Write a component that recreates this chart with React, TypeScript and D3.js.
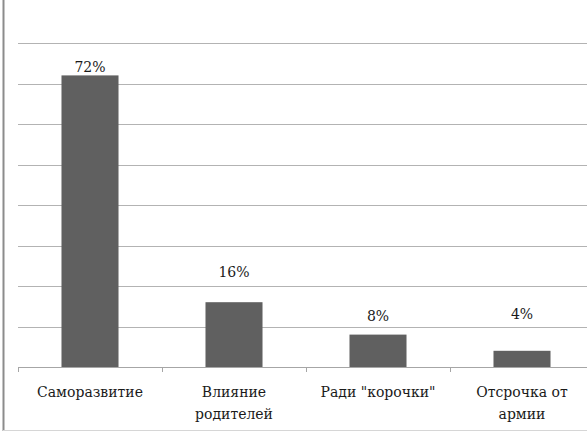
import * as d3 from 'd3';

const categories: string[][] = [
  ['Саморазвитие'],
  ['Влияние', 'родителей'],
  ['Ради "корочки"'],
  ['Отсрочка от', 'армии'],
];
const values: number[] = [72, 16, 8, 4];
const labels: string[] = ['72%', '16%', '8%', '4%'];
const yTicks: number[] = [0, 10, 20, 30, 40, 50, 60, 70, 80];
// labels were dragged by hand in the original, so each gets its own lift (px)
const labelLift: number[] = [3, 25, 14, 32];

const width = 587;
const height = 433;
const left = 18;
const right = 594;
const top = 43;
const bottom = 367;

const keys = categories.map((c) => c.join(' '));
const x = d3.scaleBand<string>()
  .domain(keys)
  .range([left, right])
  .paddingInner(0.604)
  .paddingOuter(0.302);
const y = d3.scaleLinear().domain([0, 80]).range([bottom, top]);

// Liberation Serif falls back to sans for Cyrillic here, DejaVu Serif does not
const textStyle = { fontFamily: 'DejaVu Serif', fontSize: '14px' };

const App = () => {
  const step = x.step();
  const cx = (i: number) => (x(keys[i]) as number) + x.bandwidth() / 2;
  return (
    <svg width={width} height={height} style={{ position: 'absolute', left: 0, top: 0 }}>
      <rect width={width} height={height} fill="#fff" />
      {/* chart area border */}
      <line x1={3.5} x2={3.5} y1={0} y2={431} stroke="#8c8c8c" strokeWidth={2} />
      <line x1={3} x2={width} y1={430.5} y2={430.5} stroke="#d6d6d6" />
      {/* gridlines */}
      {yTicks.filter((t) => t > 0).map((t) => (
        <line key={t} x1={left} x2={right}
          y1={Math.round(y(t)) + 0.5} y2={Math.round(y(t)) + 0.5} stroke="#b3b3b3" />
      ))}
      {/* bars */}
      {values.map((v, i) => (
        <rect key={i} x={x(keys[i])} y={y(v)} width={x.bandwidth()} height={y(0) - y(v)} fill="#606060" />
      ))}
      {/* category axis */}
      <line x1={left} x2={right} y1={bottom + 0.5} y2={bottom + 0.5} stroke="#a6a6a6" />
      {d3.range(keys.length + 1).map((i) => (
        <line key={i} x1={left + i * step + 0.5} x2={left + i * step + 0.5}
          y1={bottom} y2={bottom + 5} stroke="#a6a6a6" />
      ))}
      {categories.map((c, i) => (
        <text key={i} textAnchor="middle" fill="#1a1a1a" style={textStyle}
          transform={`translate(${cx(i)},397)`}>
          {c.map((line, j) => (
            <tspan key={j} x={0} y={j * 22}>{line}</tspan>
          ))}
        </text>
      ))}
      {/* data labels */}
      {values.map((v, i) => (
        <text key={i} x={cx(i)} y={y(v) - labelLift[i]} textAnchor="middle" fill="#1a1a1a" style={textStyle}>
          {labels[i]}
        </text>
      ))}
    </svg>
  );
};

export default App;
